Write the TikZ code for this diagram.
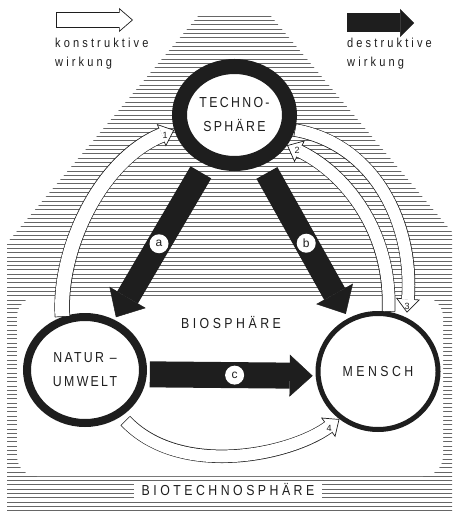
\documentclass[tikz,border=0pt]{standalone}
\usepackage{fontspec}
\setmainfont{Liberation Sans}
\newfontfamily\eng{Liberation Sans}[FakeStretch=0.85,LetterSpace=16]
\newfontfamily\weit{Liberation Sans}[FakeStretch=0.85,LetterSpace=24]
\usetikzlibrary{shapes.geometric,arrows.meta}
\definecolor{tusche}{RGB}{30,30,30}

\begin{document}
\begin{tikzpicture}[x=1pt,y=-1pt,
  sphaere/.style={ellipse, draw=tusche, fill=white, inner sep=2pt, text=tusche,
                  align=center, font=\eng\fontsize{14.5}{24}\selectfont},
  schraffur/.style={line width=0.5pt, black!60},
  voll/.style={line width=24pt, tusche, -{Triangle[width=42pt,length=23pt,line width=0.5pt]}},
  marke/.style={circle, fill=white, inner sep=0pt, minimum size=19pt, text=tusche,
                font=\fontsize{12}{12}\selectfont},
  rand/.style={line width=#1, tusche, -{Triangle[width=24pt,length=14pt,fill=white,line width=0.7pt]}},
  kern/.style={line width=#1, white, shorten <=0.7pt, shorten >=13pt},
  nummer/.style={inner sep=0pt, text=tusche, font=\fontsize{9}{9}\selectfont},
  titel/.style={text=tusche, font=\weit\fontsize{14.5}{24}\selectfont},
  legende/.style={anchor=north west, inner sep=0pt, align=left, text=tusche,
                  font=\weit\fontsize{13}{19}\selectfont}
]
\useasboundingbox (0,0) rectangle (454,518);

\begin{scope}
  \clip (199,15) -- (270,15) -- (452,232) -- (452,512) -- (7,512) -- (7,243) -- cycle;
  \foreach \y in {16,20.3,...,512}
    \draw[schraffur] (0,\y) -- (454,\y);
\end{scope}
\fill[white, rounded corners=20pt] (17,297) rectangle (443,476);

\node[titel, fill=white, inner xsep=8pt, inner ysep=2pt, text height=10pt, text depth=1pt] (biotech) at (228,491) {BIOTECHNOSPHÄRE};
\node[titel] (bio) at (231,323) {BIOSPHÄRE};

\node[sphaere, line width=15pt, minimum width=110pt, minimum height=97pt] (techno) at (234.5,115) {TECHNO-\\SPHÄRE};
\node[sphaere, line width=8pt, minimum width=116pt, minimum height=106pt] (natur) at (85,370) {NATUR –\\UMWELT};
\node[sphaere, line width=5pt, minimum width=120pt, minimum height=116pt, font=\weit\fontsize{14.5}{24}\selectfont] (mensch) at (378,371.5) {MENSCH};

\draw[voll, shorten <=9pt, shorten >=3pt] (techno) -- (natur) node[marke, pos=0.51] (a) {a};
\draw[voll, shorten <=9pt, shorten >=5pt] (techno) -- (mensch) node[marke, pos=0.51] (b) {b};
\draw[voll, line width=26pt, shorten <=3pt, shorten >=3pt] (natur.-4) -- (mensch.184) node[marke, pos=0.52] (c) {c};

\draw[rand=15.4pt] (natur.113) .. controls +(-4.5,-67) and +(-74.3,30) .. (techno.194);
\draw[kern=14pt] (natur.113) .. controls +(-4.5,-67) and +(-74.3,30) .. (techno.194);
\draw[rand=13.4pt] (mensch.80) .. controls +(3.5,-81.5) and +(57,27) .. (techno.-30);
\draw[kern=12pt] (mensch.80) .. controls +(3.5,-81.5) and +(57,27) .. (techno.-30);
\draw[rand=13.4pt, shorten >=5pt] (techno.-14) .. controls +(80.5,14.5) and +(7,-93) .. (mensch.62);
\draw[kern=12pt, shorten >=18pt] (techno.-14) .. controls +(80.5,14.5) and +(7,-93) .. (mensch.62);
\draw[rand=13.4pt, shorten <=6pt] (natur.-52) .. controls +(59,62) and +(-49.4,36) .. (mensch.231);
\draw[kern=12pt, shorten <=6.7pt] (natur.-52) .. controls +(59,62) and +(-49.4,36) .. (mensch.231);

\node[nummer] (n1) at (165,135) {1};
\node[nummer] (n2) at (297,150) {2};
\node[nummer] (n3) at (407,306) {3};
\node[nummer] (n4) at (329,428) {4};

\coordinate (kon1) at (56,20);
\coordinate (kon2) at (133,20);
\draw[rand=15.4pt] (kon1) -- (kon2);
\draw[kern=14pt] (kon1) -- (kon2);
\node[legende] (kontext) at (55,38) {konstruktive\\wirkung};

\coordinate (des1) at (347,23);
\coordinate (des2) at (414,23);
\draw[voll, line width=19pt, -{Triangle[width=28pt,length=14pt,line width=0.5pt]}] (des1) -- (des2);
\node[legende] (destext) at (347,38) {destruktive\\wirkung};
\end{tikzpicture}
\end{document}
